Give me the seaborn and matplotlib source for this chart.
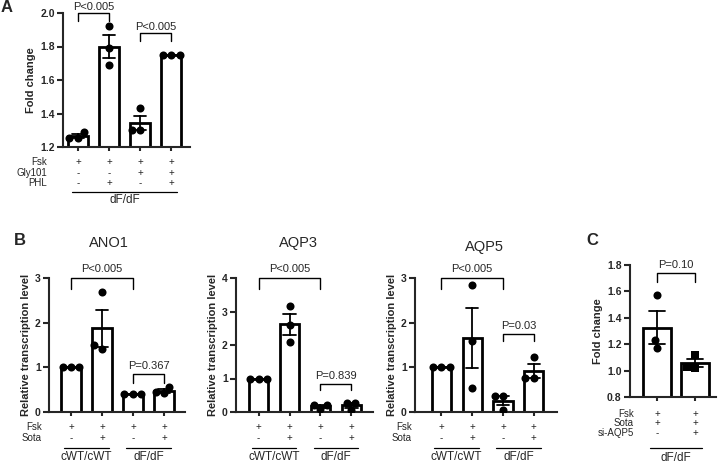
import numpy as np
import pandas as pd
import matplotlib
matplotlib.use('Agg')
import matplotlib.pyplot as plt
import matplotlib.transforms as mtrans
import seaborn as sns

# ---- data ----
# A: fold change in dF/dF cells
a_groups = ['Fsk', 'Fsk+PHL', 'Fsk+Gly101', 'Fsk+Gly101+PHL']
a_values = [[1.29, 1.255, 1.255], [1.92, 1.79, 1.69], [1.43, 1.30, 1.30], [1.75, 1.75, 1.75]]
a_row_labels = ['Fsk', 'Gly101', 'PHL']
a_row_signs = [['+', '+', '+', '+'], ['-', '-', '+', '+'], ['-', '+', '-', '+']]
a_pvals = ['P<0.005', 'P<0.005']

# B: relative transcription level
b_groups = ['cWT Fsk', 'cWT Fsk+Sota', 'dF Fsk', 'dF Fsk+Sota']
b_genes = ['ANO1', 'AQP3', 'AQP5']
ano1_values = [[1.0, 1.0, 1.0], [2.69, 1.50, 1.42], [0.40, 0.40, 0.40], [0.57, 0.42, 0.45]]
aqp3_values = [[1.0, 1.0, 1.0], [3.15, 2.59, 2.10], [0.08, 0.22, 0.22], [0.28, 0.26, 0.06]]
aqp5_values = [[1.0, 1.0, 1.0], [2.84, 1.58, 0.53], [0.35, 0.35, 0.05], [1.24, 0.76, 0.76]]
b_row_labels = ['Fsk', 'Sota']
b_row_signs = [['+', '+', '+', '+'], ['-', '+', '-', '+']]
b_genotypes = ['cWT/cWT', 'dF/dF']
ano1_pvals = ['P<0.005', 'P=0.367']
aqp3_pvals = ['P<0.005', 'P=0.839']
aqp5_pvals = ['P<0.005', 'P=0.03']

# C: fold change with si-AQP5
c_groups = ['Fsk+Sota', 'Fsk+Sota+si-AQP5']
c_values = [[1.57, 1.23, 1.17], [1.12, 1.03, 1.02]]
c_row_labels = ['Fsk', 'Sota', 'si-AQP5']
c_row_signs = [['+', '+'], ['+', '+'], ['-', '+']]
c_pval = 'P=0.10'

sns.set_style("ticks")
plt.rcParams['font.family'] = ['Liberation Sans', 'DejaVu Sans']

W, H = 724, 463
fig = plt.figure(figsize=(W / 100, H / 100), dpi=100)


def add_axes(left, top, right, bottom):
    return fig.add_axes([left / W, 1 - bottom / H, (right - left) / W, (bottom - top) / H])


def fy(y):
    return 1 - y / H


def draw_bars(ax, groups, values, width, markers=None):
    df = pd.DataFrame({'group': np.repeat(groups, [len(v) for v in values]),
                       'value': np.concatenate(values)})
    sns.barplot(data=df, x='group', y='value', order=groups, errorbar='se',
                capsize=0.4, width=width, color='white', edgecolor='black',
                linewidth=2.0, err_kws={'color': 'black', 'linewidth': 1.3}, ax=ax)
    if markers is None:
        markers = ['o'] * len(groups)
    for g, m in zip(groups, markers):
        sns.swarmplot(data=df[df['group'] == g], x='group', y='value', order=groups,
                      color='black', marker=m, size=5.8, ax=ax, zorder=3)


def style_axes(ax, n, xlim, ylim, yticks, fmt, ylabel):
    ax.set_xlim(xlim)
    ax.set_ylim(ylim)
    ax.set_yticks(yticks)
    ax.set_yticklabels([fmt.format(t) for t in yticks], fontweight='bold', fontsize=7.5)
    ax.set_xticks(range(n))
    ax.set_xticklabels([])
    ax.set_xlabel('')
    ax.set_ylabel(ylabel, fontweight='bold', fontsize=8, labelpad=3)
    sns.despine(ax=ax)
    for s in ['left', 'bottom']:
        ax.spines[s].set_linewidth(1.5)
    ax.tick_params(axis='y', length=4, width=1.5, pad=2)
    ax.tick_params(axis='x', length=3, width=1.5, pad=1)


def sign_rows(ax, labels, signs, ys, label_x):
    tr = mtrans.blended_transform_factory(ax.transData, fig.transFigure)
    for lab, row, y in zip(labels, signs, ys):
        if label_x is not None:
            fig.text(label_x / W, fy(y), lab, ha='right', va='center', fontsize=7)
        for i, s in enumerate(row):
            ax.text(i, fy(y), s, transform=tr, ha='center', va='center', fontsize=7)


def group_line(ax, i0, i1, y_line, y_text, name, pad=0.22):
    tr = mtrans.blended_transform_factory(ax.transData, fig.transFigure)
    ax.plot([i0 - pad, i1 + pad], [fy(y_line)] * 2, transform=tr, color='black',
            lw=0.9, clip_on=False)
    ax.text((i0 + i1) / 2, fy(y_text), name, transform=tr, ha='center', va='center', fontsize=8.5)


def bracket(ax, i0, i1, y_top, y_leg, text, gap_px):
    ax.plot([i0, i0, i1, i1], [y_leg, y_top, y_top, y_leg], color='black', lw=1.0, clip_on=False)
    ax.annotate(text, xy=((i0 + i1) / 2, y_top), xytext=(0, gap_px * 0.72),
                textcoords='offset points', ha='center', va='bottom', fontsize=8,
                annotation_clip=False)


# ---- Panel A ----
ax = add_axes(63, 13, 190, 147)
draw_bars(ax, a_groups, a_values, 0.65)
style_axes(ax, 4, (-0.48, 3.61), (1.2, 2.0), [1.2, 1.4, 1.6, 1.8, 2.0], '{:.1f}', 'Fold change')
bracket(ax, 0, 1, 2.0, 1.955, a_pvals[0], 1)
bracket(ax, 2, 3, 1.88, 1.83, a_pvals[1], 1)
sign_rows(ax, a_row_labels, a_row_signs, [162, 173, 183], 47)
group_line(ax, 0, 3, 192, 200, 'dF/dF', pad=0.2)
fig.text(7 / W, fy(8), 'A', fontsize=12, fontweight='bold', ha='center', va='center')

# ---- Panel B ----
b_values = [ano1_values, aqp3_values, aqp5_values]
b_pvals = [ano1_pvals, aqp3_pvals, aqp5_pvals]
b_boxes = [(49, 185), (236, 373), (415, 557)]
b_xlims = [(-0.71, 3.68), (-0.73, 3.7), (-0.85, 3.75)]
b_ymax = [3, 4, 3]
b_small = [(0.84, 0.64), (0.84, 0.66), (1.74, 1.60)]
b_title_x = [109, 298, 484]
b_title_y = [243, 243, 247]
for k in range(3):
    left, right = b_boxes[k]
    ax = add_axes(left, 278, right, 412)
    draw_bars(ax, b_groups, b_values[k], 0.62)
    style_axes(ax, 4, b_xlims[k], (0, b_ymax[k]), list(range(b_ymax[k] + 1)), '{:d}',
               'Relative transcription level')
    bracket(ax, 0, 2, b_ymax[k], b_ymax[k] * 0.92, b_pvals[k][0], 4)
    bracket(ax, 2, 3, b_small[k][0], b_small[k][1], b_pvals[k][1], 3)
    label_x = [42, None, 412][k]
    sign_rows(ax, b_row_labels, b_row_signs, [427, 438], label_x)
    group_line(ax, 0, 1, 448, 457, b_genotypes[0])
    group_line(ax, 2, 3, 448, 457, b_genotypes[1])
    fig.text(b_title_x[k] / W, fy(b_title_y[k]), b_genes[k], fontsize=10.5,
             ha='center', va='center')
fig.text(20 / W, fy(241), 'B', fontsize=12, fontweight='bold', ha='center', va='center')

# ---- Panel C ----
ax = add_axes(630, 265, 716, 397)
draw_bars(ax, c_groups, c_values, 0.74, markers=['o', 's'])
style_axes(ax, 2, (-0.71, 1.55), (0.8, 1.8), [0.8, 1.0, 1.2, 1.4, 1.6, 1.8], '{:.1f}', 'Fold change')
bracket(ax, 0, 1, 1.74, 1.67, c_pval, 3)
sign_rows(ax, c_row_labels, c_row_signs, [414, 423, 433], 634)
group_line(ax, 0, 1, 448, 458, 'dF/dF', pad=0.18)
fig.text(592 / W, fy(240), 'C', fontsize=12, fontweight='bold', ha='center', va='center')

fig.savefig('out.png', dpi=100)
